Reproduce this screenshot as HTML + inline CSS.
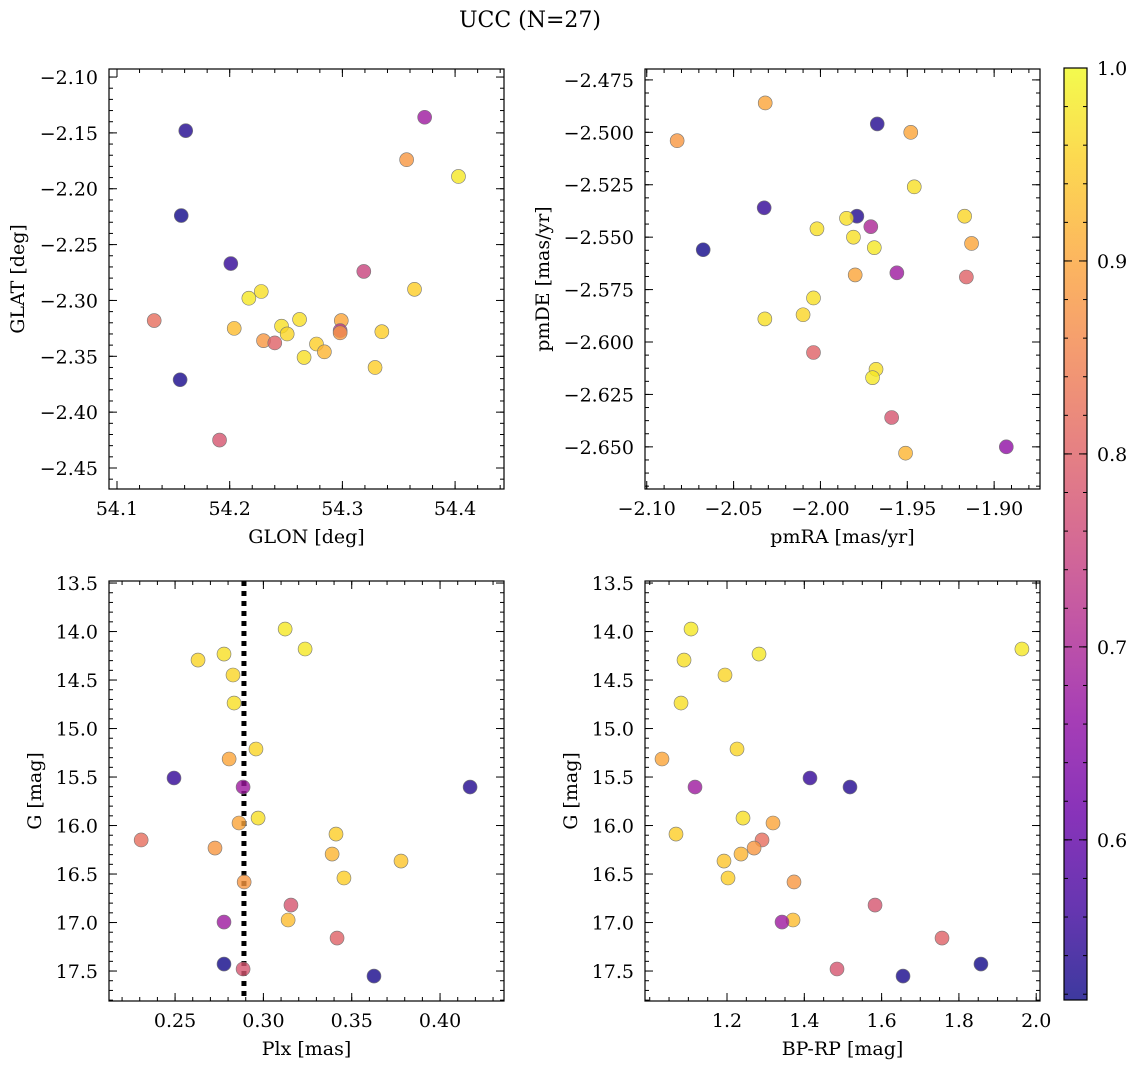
<!DOCTYPE html>
<html><head><meta charset="utf-8">
<style>
html,body{margin:0;padding:0;background:#fff;}
svg{display:block;font-family:"DejaVu Serif","Liberation Serif",serif;}
</style></head>
<body>
<svg id="fig" width="1136" height="1068" viewBox="0 0 1136 1068" xmlns="http://www.w3.org/2000/svg">
<text x="530" y="27" font-size="22" text-anchor="middle">UCC (N=27)</text>
<defs>
<linearGradient id="plasmaGrad" x1="0" y1="1" x2="0" y2="0"></linearGradient>
</defs>
</svg>
<script>
// ---- Data ----
const p1Glon=[54.373,54.161,54.357,54.403,54.157,54.201,54.319,54.364,54.217,54.228,54.262,54.133,54.299,54.204,54.246,54.251,54.298,54.298,54.335,54.277,54.284,54.230,54.240,54.266,54.329,54.156,54.191];
const p1Glat=[-2.136,-2.148,-2.174,-2.189,-2.224,-2.267,-2.274,-2.290,-2.298,-2.292,-2.317,-2.318,-2.318,-2.325,-2.323,-2.330,-2.327,-2.329,-2.328,-2.339,-2.346,-2.336,-2.338,-2.351,-2.360,-2.371,-2.425];
const p1Prob=[0.68,0.535,0.88,0.98,0.52,0.55,0.75,0.95,0.98,0.97,0.97,0.82,0.90,0.93,0.97,0.96,0.72,0.88,0.95,0.95,0.92,0.88,0.80,0.97,0.95,0.525,0.78];

const p2PmRA=[-2.0825,-2.0318,-1.9673,-1.948,-1.946,-2.0324,-1.979,-1.985,-1.917,-2.0675,-2.002,-1.971,-1.981,-1.969,-1.913,-1.980,-1.956,-1.916,-2.004,-2.032,-2.010,-2.004,-1.968,-1.970,-1.959,-1.951,-1.893];
const p2PmDE=[-2.504,-2.486,-2.496,-2.500,-2.526,-2.536,-2.540,-2.541,-2.540,-2.556,-2.546,-2.545,-2.550,-2.555,-2.553,-2.568,-2.567,-2.569,-2.579,-2.589,-2.587,-2.605,-2.613,-2.617,-2.636,-2.653,-2.650];
const p2Prob=[0.88,0.90,0.535,0.90,0.97,0.55,0.535,0.97,0.96,0.52,0.97,0.70,0.97,0.98,0.90,0.90,0.68,0.80,0.97,0.97,0.96,0.80,0.97,0.98,0.78,0.92,0.66];

const p3Plx=[0.3123,0.3236,0.263,0.2777,0.2828,0.2834,0.2958,0.2806,0.2494,0.2885,0.4170,0.297,0.2862,0.3411,0.2308,0.2726,0.3389,0.3779,0.3456,0.2891,0.3156,0.3140,0.2777,0.3417,0.2777,0.2885,0.3626];
const p3G=[13.974,14.180,14.294,14.232,14.448,14.737,15.211,15.314,15.510,15.603,15.603,15.923,15.974,16.088,16.149,16.232,16.294,16.366,16.541,16.582,16.820,16.974,16.995,17.160,17.428,17.479,17.552];
const p3Prob=[0.98,0.98,0.96,0.97,0.96,0.97,0.96,0.90,0.55,0.68,0.535,0.97,0.90,0.95,0.82,0.88,0.92,0.94,0.95,0.88,0.78,0.93,0.68,0.80,0.52,0.78,0.525];
const plxRef=[0.289];

const p4BpRp=[1.1069,1.963,1.0888,1.2828,1.1948,1.081,1.2259,1.0318,1.4147,1.1172,1.5182,1.2414,1.319,1.068,1.2906,1.270,1.2362,1.1922,1.2026,1.3733,1.583,1.3708,1.3423,1.7563,1.857,1.4846,1.6554];
const p4G=[13.974,14.180,14.294,14.232,14.448,14.737,15.211,15.314,15.510,15.603,15.603,15.923,15.974,16.088,16.149,16.232,16.294,16.366,16.541,16.582,16.820,16.974,16.995,17.160,17.428,17.479,17.552];
const p4Prob=[0.98,0.98,0.97,0.98,0.96,0.97,0.96,0.90,0.55,0.68,0.535,0.97,0.90,0.95,0.82,0.88,0.92,0.94,0.95,0.88,0.78,0.93,0.68,0.80,0.52,0.78,0.525];

// ---- Tick labels ----
const p1XTicks=[54.1,54.2,54.3,54.4];
const p1YTicks=[-2.10,-2.15,-2.20,-2.25,-2.30,-2.35,-2.40,-2.45];
const p2XTicks=[-2.10,-2.05,-2.00,-1.95,-1.90];
const p2YTicks=[-2.475,-2.500,-2.525,-2.550,-2.575,-2.600,-2.625,-2.650];
const p3XTicks=[0.25,0.30,0.35,0.40];
const gTicks=[13.5,14.0,14.5,15.0,15.5,16.0,16.5,17.0,17.5];
const p4XTicks=[1.2,1.4,1.6,1.8,2.0];
const cbTicks=[0.6,0.7,0.8,0.9,1.0];
const cbRange=[0.517,1.0];

const NS='http://www.w3.org/2000/svg';
const svg=document.getElementById('fig');
function mk(tag,attrs,parent){const e=document.createElementNS(NS,tag);for(const k in attrs)e.setAttribute(k,attrs[k]);(parent||svg).appendChild(e);return e;}

const plasma=[[13,8,135],[65,4,157],[106,0,168],[143,13,164],[177,42,144],[204,71,120],[225,100,98],[242,132,75],[252,166,54],[252,206,37],[240,249,33]];
function cmap(t){t=Math.max(0,Math.min(1,t));const f=t*10,i=Math.min(9,Math.floor(f)),u=f-i;const a=plasma[i],b=plasma[i+1];return 'rgb('+a.map((v,k)=>Math.round(v+(b[k]-v)*u)).join(',')+')';}
function norm(p){return (p-cbRange[0])/(cbRange[1]-cbRange[0]);}
function fmt(v,d){return (v<0?'\u2212':'')+Math.abs(v).toFixed(d);}
const FS=19;

function panel(o){
  const g=mk('g',{});
  
  
  const X=v=>o.L+(v-o.x0)/(o.x1-o.x0)*(o.R-o.L);
  const Y=o.invert? v=>o.T+(v-o.y0)/(o.y1-o.y0)*(o.B-o.T) : v=>o.B-(v-o.y0)/(o.y1-o.y0)*(o.B-o.T);
  const addTicks=(vals,isX,len,labels)=>{
    vals.forEach(v=>{
      if(isX){const x=X(v);if(x<o.L-0.5||x>o.R+0.5)return;
        mk('line',{x1:x,y1:o.B,x2:x,y2:o.B-len,stroke:'#000','stroke-width':1},g);
        mk('line',{x1:x,y1:o.T,x2:x,y2:o.T+len,stroke:'#000','stroke-width':1},g);
        if(labels){const t=mk('text',{x:x,y:o.B+26,'font-size':FS,'text-anchor':'middle'},g);t.textContent=fmt(v,o.xd);}
      }else{const y=Y(v);if(y<o.T-0.5||y>o.B+0.5)return;
        mk('line',{x1:o.L,y1:y,x2:o.L+len,y2:y,stroke:'#000','stroke-width':1},g);
        mk('line',{x1:o.R,y1:y,x2:o.R-len,y2:y,stroke:'#000','stroke-width':1},g);
        if(labels){const t=mk('text',{x:o.L-11,y:y+7,'font-size':FS,'text-anchor':'end'},g);t.textContent=fmt(v,o.yd);}
      }
    });
  };
  const minors=(ticks,n,lo,hi)=>{const a=Math.abs(ticks[1]-ticks[0])/n;const out=[];const st=Math.min(...ticks);for(let v=st-a*200;v<=Math.max(lo,hi)+a;v+=a){if(v>=Math.min(lo,hi)-1e-9)out.push(v);}return out;};
  addTicks(minors(o.xt,o.xn,o.x0,o.x1),true,4,false);
  addTicks(minors(o.yt,o.yn,o.y0,o.y1),false,4,false);
  addTicks(o.xt,true,8,true);
  addTicks(o.yt,false,8,true);
  if(o.vline){o.vline.forEach(v=>{const l=mk('line',{x1:X(v),y1:o.T,x2:X(v),y2:o.B,stroke:'#000','stroke-width':5,'stroke-dasharray':'5,5'},g);});}
  o.xs.forEach((xv,i)=>{
    const c=mk('circle',{cx:X(xv),cy:Y(o.ys[i]),r:7,fill:cmap(norm(o.ps[i])),'fill-opacity':0.8,stroke:'#777','stroke-width':0.6},g);
    
    
  });
  const fr=mk('rect',{x:o.L,y:o.T,width:o.R-o.L,height:o.B-o.T,fill:'none',stroke:'#000','stroke-width':1.2},g);
  
  const xl=mk('text',{x:(o.L+o.R)/2,y:o.B+54,'font-size':FS,'text-anchor':'middle'},g);xl.textContent=o.xlab;
  
  const yx=o.ylx,yy=(o.T+o.B)/2;
  const yl=mk('text',{x:yx,y:yy,'font-size':FS,'text-anchor':'middle',transform:'rotate(-90 '+yx+' '+yy+')'},g);yl.textContent=o.ylab;
  
}

panel({name:'glon-glat-panel',L:109,R:504,T:69,B:489,x0:54.0929,x1:54.4434,y0:-2.4688,y1:-2.0928,xt:p1XTicks,yt:p1YTicks,xn:5,yn:5,xd:1,yd:2,xs:p1Glon,ys:p1Glat,ps:p1Prob,xlab:'GLON [deg]',ylab:'GLAT [deg]',ylx:24});
panel({name:'proper-motion-panel',L:645,R:1040,T:69,B:489,x0:-2.101,x1:-1.8736,y0:-2.6701,y1:-2.4698,xt:p2XTicks,yt:p2YTicks,xn:5,yn:4,xd:2,yd:3,xs:p2PmRA,ys:p2PmDE,ps:p2Prob,xlab:'pmRA [mas/yr]',ylab:'pmDE [mas/yr]',ylx:549});
panel({name:'plx-g-panel',L:109,R:504,T:581,B:1001,x0:0.2126,x1:0.4362,y0:13.479,y1:17.809,invert:true,xt:p3XTicks,yt:gTicks,xn:5,yn:5,xd:2,yd:1,xs:p3Plx,ys:p3G,ps:p3Prob,vline:plxRef,xlab:'Plx [mas]',ylab:'G [mag]',ylx:41});
panel({name:'cmd-panel',L:645,R:1040,T:581,B:1001,x0:0.9878,x1:2.0098,y0:13.479,y1:17.809,invert:true,xt:p4XTicks,yt:gTicks,xn:4,yn:5,xd:1,yd:1,xs:p4BpRp,ys:p4G,ps:p4Prob,xlab:'BP-RP [mag]',ylab:'G [mag]',ylx:577});

// colorbar
const grad=document.getElementById('plasmaGrad');
for(let i=0;i<=20;i++){const s=document.createElementNS(NS,'stop');s.setAttribute('offset',(i/20));const p=cbRange[0]+(cbRange[1]-cbRange[0])*i/20;s.setAttribute('stop-color',cmap(norm(p)));grad.appendChild(s);}
const cbT=68,cbB=1000,cbL=1064,cbR=1087;
const cbg=mk('g',{});
mk('rect',{x:cbL,y:cbT,width:cbR-cbL,height:cbB-cbT,fill:'url(#plasmaGrad)','fill-opacity':0.8},cbg);
mk('rect',{x:cbL,y:cbT,width:cbR-cbL,height:cbB-cbT,fill:'none',stroke:'#000','stroke-width':1.2},cbg);
const CY=v=>cbB-(v-cbRange[0])/(cbRange[1]-cbRange[0])*(cbB-cbT);
for(let v=0.52;v<=1.0001;v+=0.02){const y=CY(v);mk('line',{x1:cbR,y1:y,x2:cbR-4,y2:y,stroke:'#000'},cbg);mk('line',{x1:cbL,y1:y,x2:cbL+4,y2:y,stroke:'#000'},cbg);}
cbTicks.forEach(v=>{const y=CY(v);mk('line',{x1:cbR,y1:y,x2:cbR-8,y2:y,stroke:'#000'},cbg);mk('line',{x1:cbL,y1:y,x2:cbL+8,y2:y,stroke:'#000'},cbg);
  const t=mk('text',{x:cbR+10,y:y+7,'font-size':FS},cbg);t.textContent=v.toFixed(1);});
</script>
</body></html>
